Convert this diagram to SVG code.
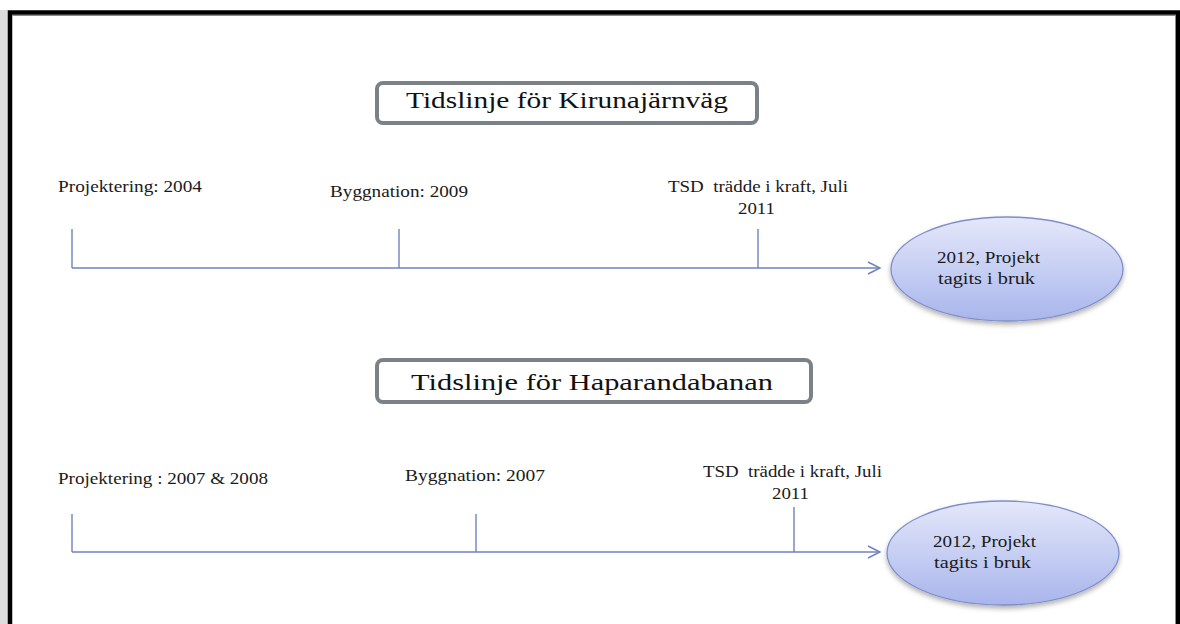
<svg xmlns="http://www.w3.org/2000/svg" width="1180" height="624" viewBox="0 0 1180 624">
  <defs>
    <linearGradient id="bubbleFill" x1="0" y1="0" x2="0" y2="1">
      <stop offset="0" stop-color="#e4e8fa"/>
      <stop offset="1" stop-color="#a9b5ec"/>
    </linearGradient>
    <filter id="softShadow" x="-10%" y="-10%" width="120%" height="130%">
      <feDropShadow dx="0" dy="3" stdDeviation="2.5" flood-color="#000" flood-opacity="0.3"/>
    </filter>
    <marker id="openArrow" markerWidth="16" markerHeight="14" refX="14" refY="7" orient="auto" markerUnits="userSpaceOnUse">
      <path d="M2,1 L14,7 L2,13" fill="none" stroke="#6f80c0" stroke-width="1.4"/>
    </marker>
    <style>
      .lbl { font-family: "Liberation Serif", "DejaVu Serif", serif; font-size: 16.5px; fill: #1a1a1a; }
      .pre { white-space: pre; }
      .ttl { font-family: "Liberation Serif", "DejaVu Serif", serif; font-size: 24px; fill: #111; }
      .tbox { fill: #fff; stroke: #7a8288; stroke-width: 4; }
      .axis { stroke: #6f80c0; stroke-width: 1.4; fill: none; }
      .bubble { fill: url(#bubbleFill); stroke: #7f8ec8; stroke-width: 1.3; filter: url(#softShadow); }
    </style>
  </defs>

  <!-- page background and frame -->
  <rect x="0" y="0" width="1180" height="624" fill="#fff"/>
  <rect x="0" y="10" width="8" height="614" fill="#dcdcdc"/>
  <path d="M10,624 V12.5 H1178 V624" fill="none" stroke="#000" stroke-width="4.5"/>
  <line x1="12.5" y1="15.5" x2="1176" y2="15.5" stroke="#8a8a8a" stroke-width="1"/>
  <line x1="1175.5" y1="15" x2="1175.5" y2="624" stroke="#8a8a8a" stroke-width="1"/>

  <!-- connectors: timeline axes and ticks -->
  <g id="connectors">
    <line class="axis" x1="72" y1="268" x2="880" y2="268" marker-end="url(#openArrow)"/>
    <line class="axis" x1="72" y1="229" x2="72" y2="268"/>
    <line class="axis" x1="399" y1="229" x2="399" y2="268"/>
    <line class="axis" x1="758" y1="229" x2="758" y2="268"/>

    <line class="axis" x1="72" y1="552" x2="880" y2="552" marker-end="url(#openArrow)"/>
    <line class="axis" x1="72" y1="514" x2="72" y2="552"/>
    <line class="axis" x1="476" y1="514" x2="476" y2="552"/>
    <line class="axis" x1="794" y1="507" x2="794" y2="552"/>
  </g>

  <!-- Kiruna timeline -->
  <g id="title-kiruna">
    <rect class="tbox" x="377" y="83" width="380" height="40" rx="6"/>
    <text class="ttl" x="406" y="108" textLength="322" lengthAdjust="spacingAndGlyphs">Tidslinje för Kirunajärnväg</text>
  </g>
  <g id="k-projektering">
    <text class="lbl" x="58" y="192" textLength="144" lengthAdjust="spacingAndGlyphs">Projektering: 2004</text>
  </g>
  <g id="k-byggnation">
    <text class="lbl" x="330" y="197" textLength="138" lengthAdjust="spacingAndGlyphs">Byggnation: 2009</text>
  </g>
  <g id="k-tsd">
    <text class="lbl pre" x="668" y="192" textLength="180" lengthAdjust="spacingAndGlyphs">TSD  trädde i kraft, Juli</text>
    <text class="lbl" x="738" y="214" textLength="37" lengthAdjust="spacingAndGlyphs">2011</text>
  </g>
  <g id="k-bruk">
    <ellipse class="bubble" cx="1007" cy="269" rx="116" ry="52"/>
    <text class="lbl" x="937" y="263" textLength="103" lengthAdjust="spacingAndGlyphs">2012, Projekt</text>
    <text class="lbl" x="938" y="284" textLength="97" lengthAdjust="spacingAndGlyphs">tagits i bruk</text>
  </g>

  <!-- Haparanda timeline -->
  <g id="title-haparanda">
    <rect class="tbox" x="377" y="360" width="434" height="42" rx="6"/>
    <text class="ttl" x="411" y="390" textLength="362" lengthAdjust="spacingAndGlyphs">Tidslinje för Haparandabanan</text>
  </g>
  <g id="h-projektering">
    <text class="lbl" x="58" y="484" textLength="210" lengthAdjust="spacingAndGlyphs">Projektering : 2007 &amp; 2008</text>
  </g>
  <g id="h-byggnation">
    <text class="lbl" x="405" y="481" textLength="140" lengthAdjust="spacingAndGlyphs">Byggnation: 2007</text>
  </g>
  <g id="h-tsd">
    <text class="lbl pre" x="703" y="477" textLength="179" lengthAdjust="spacingAndGlyphs">TSD  trädde i kraft, Juli</text>
    <text class="lbl" x="772" y="499" textLength="37" lengthAdjust="spacingAndGlyphs">2011</text>
  </g>
  <g id="h-bruk">
    <ellipse class="bubble" cx="1003" cy="553" rx="116" ry="52"/>
    <text class="lbl" x="933" y="547" textLength="103" lengthAdjust="spacingAndGlyphs">2012, Projekt</text>
    <text class="lbl" x="934" y="568" textLength="97" lengthAdjust="spacingAndGlyphs">tagits i bruk</text>
  </g>
</svg>
